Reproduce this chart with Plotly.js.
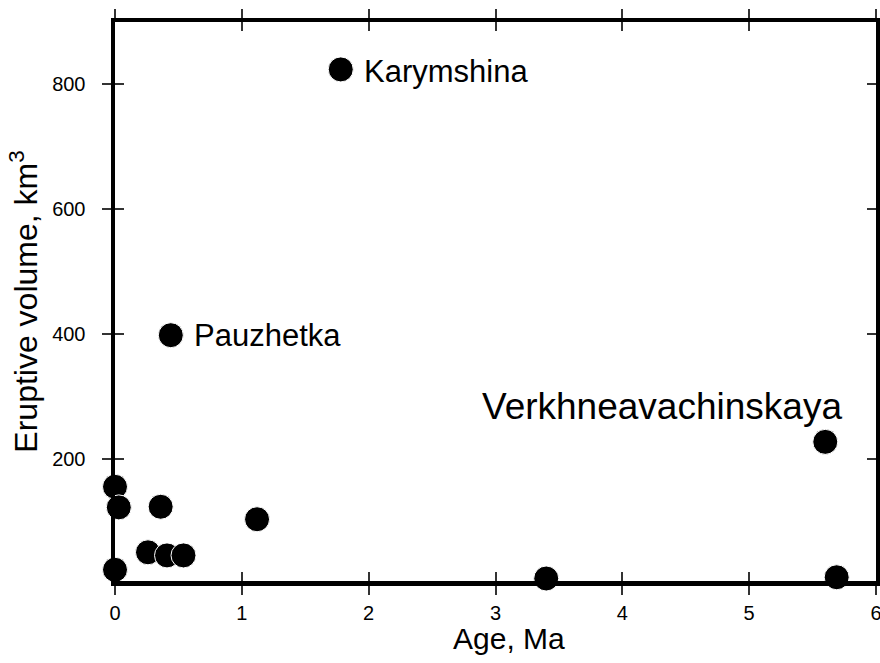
<!DOCTYPE html>
<html>
<head>
<meta charset="utf-8">
<script src="https://cdn.plot.ly/plotly-3.0.1.min.js"></script>
<style>html,body{margin:0;padding:0;background:#fff;}#chart{width:880px;height:663px;}</style>
</head>
<body>
<div id="chart"></div>
<script>
// Data
const ageMa = [0.0, 0.03, 0.36, 1.12, 0.26, 0.41, 0.54, 0.0, 3.40, 5.69, 5.60, 0.44, 1.78];
const volumeKm3 = [155, 122, 123, 103, 50, 45, 45, 22, 8, 10, 227, 398, 824];
const labelNames = ["Karymshina", "Pauzhetka", "Verkhneavachinskaya"];
const labelAge = [1.78, 0.44, 5.60];
const labelVol = [824, 398, 227];
const xTicks = [0, 1, 2, 3, 4, 5, 6];
const yTicks = [200, 400, 600, 800];
const xTitle = 'Age, Ma';
const yTitle = 'Eruptive volume, km<sup>3</sup>';

const font = "Liberation Sans, Arial, sans-serif";

const trace = {
  x: ageMa, y: volumeKm3, type: 'scatter', mode: 'markers',
  marker: {size: 25, color: '#000', line: {color: '#fff', width: 1}},
  hoverinfo: 'skip', showlegend: false, cliponaxis: false
};

const ann = [
  {x: labelAge[0], y: labelVol[0], text: labelNames[0], xanchor: 'left', yanchor: 'middle', xshift: 21, yshift: -2, size: 31},
  {x: labelAge[1], y: labelVol[1], text: labelNames[1], xanchor: 'left', yanchor: 'middle', xshift: 21, yshift: 0, size: 31},
  {x: labelAge[2], y: labelVol[2], text: labelNames[2], xanchor: 'right', yanchor: 'middle', xshift: 19, yshift: 35, size: 37}
].map(a => ({x: a.x, y: a.y, xref: 'x', yref: 'y', text: a.text, showarrow: false,
  xanchor: a.xanchor, yanchor: a.yanchor, xshift: a.xshift, yshift: a.yshift,
  font: {family: font, size: a.size, color: '#000'}}));

// x-axis title placed as a paper annotation (slightly right of centre, as in the reference)
ann.push({xref: 'paper', yref: 'paper', x: 0.5, y: 0, xanchor: 'center', yanchor: 'middle',
  xshift: 13, yshift: -57, text: xTitle, showarrow: false,
  font: {family: font, size: 30, color: '#000'}});

const xr = [0, 6], yr = [4, 900];
const layout = {
  width: 880, height: 663,
  margin: {l: 115, r: 4, t: 22, b: 82},
  paper_bgcolor: '#fff', plot_bgcolor: '#fff',
  showlegend: false,
  xaxis: {
    range: xr, tickvals: xTicks, ticktext: xTicks.map(String),
    showgrid: false, zeroline: false, showline: true, linecolor: '#000', linewidth: 4.5,
    mirror: 'allticks', ticks: 'outside', ticklen: 9, tickwidth: 2, tickcolor: '#333',
    ticklabeloverflow: 'allow', ticklabelstandoff: 1,
    tickfont: {family: font, size: 20, color: '#000'}
  },
  yaxis: {
    range: yr, tickvals: yTicks, ticktext: yTicks.map(String),
    showgrid: false, zeroline: false, showline: true, linecolor: '#000', linewidth: 4.5,
    mirror: 'allticks', ticks: 'outside', ticklen: 9, tickwidth: 2, tickcolor: '#333',
    ticklabeloverflow: 'allow', ticklabelstandoff: 12,
    tickfont: {family: font, size: 20, color: '#000'},
    title: {text: yTitle, font: {family: font, size: 32, color: '#000'}, standoff: 6}
  },
  // overlay axes supply the inner half of the crossing tick marks
  xaxis2: {
    range: xr, overlaying: 'x', anchor: 'y2', tickvals: xTicks, showticklabels: false,
    showgrid: false, zeroline: false, showline: false,
    mirror: 'allticks', ticks: 'inside', ticklen: 9, tickwidth: 2, tickcolor: '#333'
  },
  yaxis2: {
    range: yr, overlaying: 'y', anchor: 'x2', tickvals: yTicks, showticklabels: false,
    showgrid: false, zeroline: false, showline: false,
    mirror: 'allticks', ticks: 'inside', ticklen: 9, tickwidth: 2, tickcolor: '#333'
  },
  annotations: ann
};

const ghost = {x: ageMa, y: volumeKm3, xaxis: 'x2', yaxis: 'y2', type: 'scatter', mode: 'markers',
  marker: {opacity: 0}, showlegend: false, hoverinfo: 'skip'};

Plotly.newPlot('chart', [ghost, trace], layout, {staticPlot: true, displayModeBar: false});
</script>
</body>
</html>
